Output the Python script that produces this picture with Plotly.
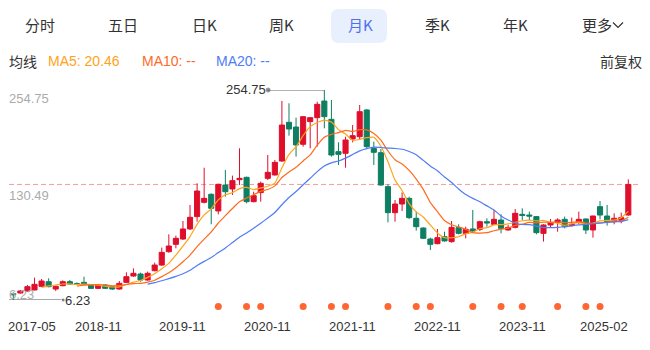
import pandas as pd
import plotly.graph_objects as go


def span(a, b):
    return [p.strftime("%Y-%m") for p in pd.period_range(a, b, freq="M")]


# Monthly bars (trading months only; suspended months are absent)
months = (span("2017-05", "2017-11") + span("2018-06", "2023-11")
          + span("2023-12", "2024-02") + span("2024-06", "2025-05"))

opens = [13.7, 14.5, 16.9, 18.1, 22.4, 27.9, 19.2, 23.2, 27.9, 25.6,
         27.1, 24.0, 20.0, 24.0, 22.0, 19.2, 27.1, 34.6, 37.0, 29.9,
         40.9, 47.6, 63.4, 72.1, 78.4, 90.3, 104.9, 121.8, 131.3, 111.6,
         142.3, 137.6, 148.6, 151.4, 122.6, 133.3, 150.2, 154.2, 170.7, 216.5,
         210.9, 190.5, 217.3, 222.0, 241.7, 220.0, 181.8, 179.8, 196.8, 199.5,
         231.1, 185.7, 180.6, 140.4, 109.6, 119.8, 126.5, 102.9, 91.4, 78.4,
         72.9, 81.2, 75.3, 91.8, 85.1, 90.3, 89.9, 98.9, 95.8, 100.9,
         89.1, 92.2, 107.6, 106.8, 104.9, 85.1, 95.0, 98.1, 101.7, 94.2,
         98.1, 102.1, 89.1, 116.7, 105.6, 98.9, 100.5, 106.8]

closes = [12.5, 16.9, 22.0, 24.8, 28.7, 22.0, 22.4, 27.9, 25.2, 24.8,
          24.8, 20.0, 24.0, 20.0, 19.2, 25.9, 33.8, 37.8, 29.9, 37.8,
          47.6, 62.6, 70.1, 79.2, 90.3, 104.1, 135.2, 126.5, 114.7, 143.1,
          134.4, 147.5, 150.2, 122.6, 129.7, 144.3, 157.3, 169.1, 213.3, 208.6,
          189.7, 223.2, 222.0, 237.8, 223.2, 177.8, 178.6, 195.6, 200.7, 229.1,
          187.7, 181.0, 142.3, 109.6, 119.8, 126.5, 103.7, 93.0, 79.2, 72.1,
          80.0, 76.1, 92.2, 85.1, 89.9, 87.9, 98.9, 97.4, 101.7, 91.0,
          92.2, 108.8, 106.4, 105.6, 85.9, 95.0, 97.8, 100.9, 93.0, 95.8,
          101.7, 89.1, 105.6, 106.8, 98.9, 102.9, 103.7, 143.0]

highs = [15.3, 18.1, 24.0, 32.7, 31.1, 31.9, 23.2, 29.5, 29.9, 27.1,
         33.8, 24.8, 25.2, 24.8, 22.8, 28.7, 39.0, 43.7, 38.6, 39.8,
         50.4, 68.2, 83.9, 82.4, 99.7, 118.7, 144.3, 162.8, 132.5, 143.9,
         160.1, 153.4, 185.7, 152.2, 134.4, 146.3, 177.8, 171.9, 241.7, 239.0,
         222.0, 224.0, 222.8, 240.9, 254.75, 242.9, 192.8, 199.5, 213.3, 237.0,
         232.3, 193.6, 184.9, 143.1, 124.6, 133.6, 128.5, 110.8, 92.2, 80.0,
         90.3, 87.1, 99.7, 95.8, 93.0, 112.7, 100.1, 102.9, 112.7, 107.6,
         95.0, 113.9, 114.7, 110.8, 105.6, 95.8, 102.1, 102.9, 104.9, 103.7,
         110.8, 102.9, 106.0, 123.4, 118.7, 108.8, 109.6, 149.0]

lows = [6.23, 13.7, 16.1, 17.7, 21.6, 21.2, 16.9, 22.4, 24.0, 24.0,
        24.0, 19.2, 19.2, 19.6, 18.1, 18.5, 26.3, 33.8, 27.9, 29.1,
        40.2, 46.5, 62.2, 67.4, 77.2, 89.1, 98.9, 120.6, 95.8, 107.6,
        128.5, 130.5, 142.3, 120.6, 121.8, 122.6, 148.2, 153.4, 169.9, 200.7,
        175.9, 187.7, 185.7, 187.7, 209.4, 175.9, 166.0, 162.8, 192.8, 195.6,
        185.7, 166.0, 141.5, 98.1, 98.9, 111.6, 102.1, 88.3, 78.4, 65.4,
        72.1, 75.3, 74.1, 83.9, 79.2, 86.3, 87.9, 93.0, 95.0, 85.1,
        88.3, 91.0, 100.9, 100.9, 83.9, 75.3, 91.8, 87.1, 91.0, 93.0,
        95.8, 84.3, 80.0, 101.7, 94.2, 95.8, 97.0, 106.0]

# months carrying an event marker (dividends etc.)
event_idx = [29, 33, 35, 41, 45, 47, 53, 57, 59, 65, 69, 72, 77, 81, 83]
# bars that get a date label under the axis
tick_idx = [0, 12, 24, 36, 48, 60, 72, 84]

tabs = ["分时", "五日", "日K", "周K", "月K", "季K", "年K", "更多"]
tab_x = [40, 123, 204, 281, 360, 437, 515, 597]
active_tab = "月K"

W, H = 650, 350
UP, DOWN = "#DF0F2C", "#0E7F62"
MA_COLORS = {5: "#FFA31A", 10: "#FF6A1E", 20: "#4F7CF7"}
NUM_FONT = "Liberation Sans, Arial, Noto Sans CJK SC, sans-serif"
CJK_FONT = "Noto Sans CJK SC, sans-serif"


def px(x):
    return x / W


def py(y):
    return (H - y) / H


idx = list(range(len(months)))
close_s = pd.Series(closes)
ymax, ymin = max(highs), min(lows)
imax, imin = highs.index(ymax), lows.index(ymin)

fig = go.Figure()
fig.add_trace(go.Candlestick(
    x=idx, open=opens, high=highs, low=lows, close=closes,
    increasing=dict(line=dict(color=UP, width=1), fillcolor=UP),
    decreasing=dict(line=dict(color=DOWN, width=1), fillcolor=DOWN),
    whiskerwidth=0, hoverinfo="skip",
))

for n, col in MA_COLORS.items():
    ma = close_s.rolling(n).mean()
    fig.add_trace(go.Scatter(
        x=idx, y=ma, mode="lines", hoverinfo="skip",
        line=dict(color=col, width=1.2, shape="spline", smoothing=0.5),
    ))

fig.add_trace(go.Scatter(
    x=event_idx, y=[0] * len(event_idx), yaxis="y2", mode="markers",
    marker=dict(size=7, color="#FF6633"), hoverinfo="skip",
))

# leader lines to the extreme high / low
fig.add_trace(go.Scatter(
    x=[imax, imax - 7.95], y=[ymax, ymax], mode="lines+markers",
    line=dict(color="#666666", width=1.2),
    marker=dict(size=[0, 4], color="#555555"), hoverinfo="skip", cliponaxis=False,
))
fig.add_trace(go.Scatter(
    x=[imin - 0.6, imin + 7.05], y=[ymin, ymin], mode="lines+markers",
    line=dict(color="#555555", width=1.2),
    marker=dict(size=[0, 4], color="#555555"), hoverinfo="skip", cliponaxis=False,
))

shapes = [
    # latest close
    dict(type="line", xref="paper", yref="y", x0=px(9), x1=px(638),
         y0=closes[-1], y1=closes[-1],
         line=dict(color="#F59A9A", width=1, dash="5px,3px"), layer="below"),
]

# highlighted tab background (rounded)
bx0, bx1, by0, by1, r = 331, 387, 9, 43, 8
path = (f"M {px(bx0 + r)} {py(by0)} L {px(bx1 - r)} {py(by0)} "
        f"Q {px(bx1)} {py(by0)} {px(bx1)} {py(by0 + r)} "
        f"L {px(bx1)} {py(by1 - r)} Q {px(bx1)} {py(by1)} {px(bx1 - r)} {py(by1)} "
        f"L {px(bx0 + r)} {py(by1)} Q {px(bx0)} {py(by1)} {px(bx0)} {py(by1 - r)} "
        f"L {px(bx0)} {py(by0 + r)} Q {px(bx0)} {py(by0)} {px(bx0 + r)} {py(by0)} Z")
shapes.append(dict(type="path", xref="paper", yref="paper", path=path,
                   fillcolor="#E8F0FE", line=dict(width=0), layer="below"))
# dropdown chevron after 更多
shapes.append(dict(type="path", xref="paper", yref="paper",
                   path=f"M {px(613)} {py(22.5)} L {px(618)} {py(27.5)} L {px(623)} {py(22.5)}",
                   line=dict(color="#333333", width=1.2)))

ann = []


def text(x, y, s, color, size, family, xanchor="left", yanchor="middle",
         xref="paper", yref="paper", xshift=0, yshift=0):
    ann.append(dict(x=x, y=y, text=s, xref=xref, yref=yref, showarrow=False,
                    xanchor=xanchor, yanchor=yanchor, xshift=xshift, yshift=yshift,
                    font=dict(color=color, size=size, family=family),
                    borderpad=0, borderwidth=0))


for t, cx in zip(tabs, tab_x):
    col = "#4E6EF2" if t == active_tab else "#333333"
    text(px(cx), py(25), t, col, 15, CJK_FONT, xanchor="center")

# moving-average legend row
text(px(9), py(61), "均线", "#333333", 14, CJK_FONT)
ma5_first = close_s.rolling(5).mean().dropna().iloc[0]
text(px(48), py(61), "MA5: 20.46", MA_COLORS[5], 14, NUM_FONT)
text(px(142), py(61), "MA10: --", MA_COLORS[10], 14, NUM_FONT)
text(px(216), py(61), "MA20: --", MA_COLORS[20], 14, NUM_FONT)
text(px(642), py(61), "前复权", "#333333", 14, CJK_FONT, xanchor="right")

# price scale labels: high, middle, low
AX = "#ABABAB"
text(px(9), ymax, f"{ymax:.2f}", AX, 13, NUM_FONT, yanchor="top", yref="y", yshift=-1)
text(px(9), (ymax + ymin) / 2, f"{(ymax + ymin) / 2:.2f}", AX, 13, NUM_FONT, yref="y")
text(px(9), ymin, f"{ymin:.2f}", AX, 13, NUM_FONT, yanchor="bottom", yref="y", yshift=-2)

# extreme value tags
text(imax - 8.25, ymax, f"{ymax:.2f}", "#333333", 13, NUM_FONT,
     xanchor="right", xref="x", yref="y")
text(imin + 7.3, ymin, f"{ymin:.2f}", "#333333", 13, NUM_FONT,
     xanchor="left", xref="x", yref="y")

# date labels
for k, i in enumerate(tick_idx):
    if k == 0:
        xa, xs = "left", -5
    elif k == len(tick_idx) - 1:
        xa, xs = "right", 21
    else:
        xa, xs = "center", 0
    text(i, py(326.5), months[i], "#333333", 13, NUM_FONT,
         xanchor=xa, xref="x", xshift=xs)

d = 7.069
x0 = 13.3
fig.update_layout(
    width=W, height=H, margin=dict(l=0, r=0, t=0, b=0),
    paper_bgcolor="white", plot_bgcolor="white", showlegend=False,
    boxgap=0.15, boxgroupgap=0.15,
    xaxis=dict(range=[-x0 / d, (W - x0) / d], visible=False,
               rangeslider=dict(visible=False), fixedrange=True),
    yaxis=dict(domain=[py(300), py(90)], range=[ymin, ymax], visible=False),
    yaxis2=dict(domain=[py(312), py(301)], range=[-1, 1], visible=False,
                anchor="x"),
    shapes=shapes, annotations=ann,
)

fig.write_html("out.html")
